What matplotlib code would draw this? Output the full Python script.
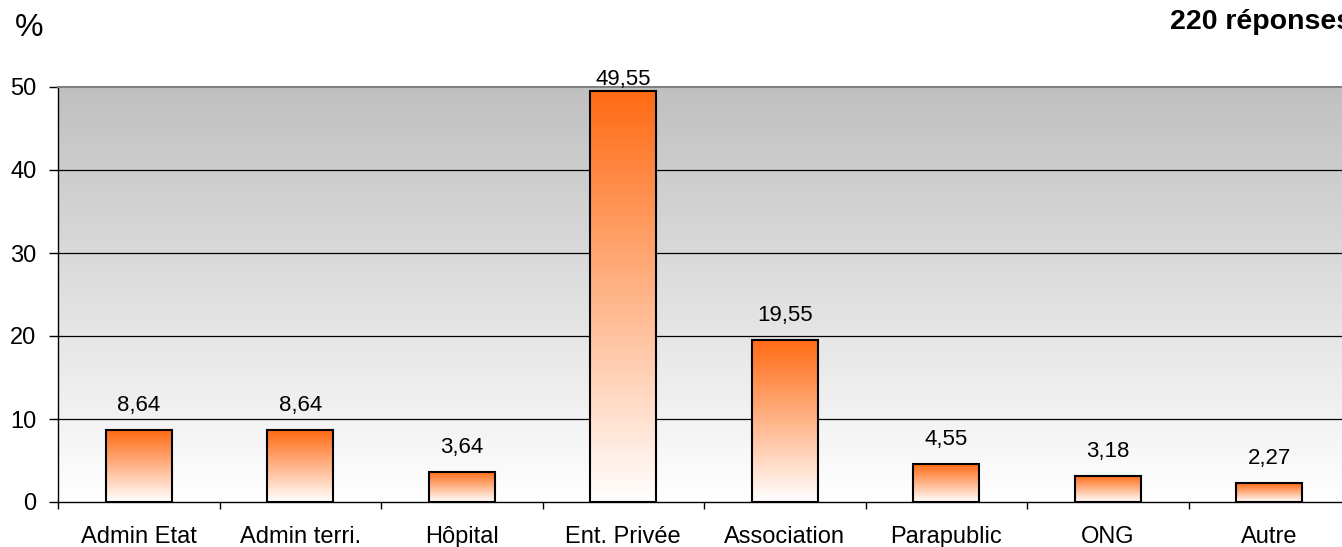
import numpy as np
import matplotlib
matplotlib.use("Agg")
import matplotlib.pyplot as plt
from matplotlib.colors import LinearSegmentedColormap

categories = ["Admin Etat", "Admin terri.", "Hôpital", "Ent. Privée", "Association",
              "Parapublic", "ONG", "Autre"]
values = [8.64, 8.64, 3.64, 49.55, 19.55, 4.55, 3.18, 2.27]
value_labels = ["8,64", "8,64", "3,64", "49,55", "19,55", "4,55", "3,18", "2,27"]
yticks = [0, 10, 20, 30, 40, 50]

plt.rcParams['font.family'] = ['Liberation Sans', 'DejaVu Sans']

W, H, DPI = 1342, 547, 100
fig = plt.figure(figsize=(W / DPI, H / DPI), dpi=DPI)
ax = fig.add_axes([58/W, 1-502/H, 1292/W, 415/H])

n = len(categories)
x = np.arange(n)
ax.set_xlim(-0.5, n - 0.5)
ax.set_ylim(0, 50)

# background gradient
bg = LinearSegmentedColormap.from_list("bg", ["#ffffff", "#c0c0c0"])
grad = np.linspace(0, 1, 256).reshape(-1, 1)
ax.imshow(grad, cmap=bg, aspect="auto", origin="lower",
          extent=(-0.5, n - 0.5, 0, 50), zorder=0)

for t in yticks[1:-1]:
    ax.axhline(t, color="black", lw=0.9, zorder=1)

bars = ax.bar(x, values, width=0.41, facecolor="none", edgecolor="black",
              linewidth=1.5, zorder=3)
orange = LinearSegmentedColormap.from_list("or", ["#ffffff", "#ff6a13"])
for b in bars:
    x0, y0 = b.get_x(), b.get_y()
    w, h = b.get_width(), b.get_height()
    im = ax.imshow(grad, cmap=orange, aspect="auto", origin="lower",
                   extent=(x0, x0 + w, y0, y0 + h), zorder=2)
    im.set_clip_path(b)

ax.set_xlim(-0.5, n - 0.5)
ax.set_ylim(0, 50)

# value labels: baseline 19 px above bar top, but kept inside the chart area
max_baseline = H - 85
for xi, v, lab in zip(x, values, value_labels):
    top = ax.transData.transform((xi, v))[1]
    base = min(top + 19, max_baseline)
    off = (base - top) * 72 / DPI
    ax.annotate(lab, (xi, v), xytext=(0, off), textcoords="offset points",
                ha="center", va="baseline", fontsize=16, annotation_clip=False)

ax.spines["right"].set_visible(False)
ax.spines["top"].set_color("#808080")
ax.spines["top"].set_linewidth(1.5)
ax.spines["left"].set_linewidth(1.0)
ax.spines["bottom"].set_linewidth(1.0)

ax.set_yticks(yticks)
ax.set_yticklabels([str(t) for t in yticks], fontsize=17)
ax.tick_params(axis="y", direction="out", length=6.5, width=1, pad=9)

ax.set_xticks(x)
ax.set_xticklabels(categories, fontsize=17)
ax.tick_params(axis="x", which="major", length=0, pad=17.5)
ax.set_xticks(np.arange(n + 1) - 0.5, minor=True)
ax.tick_params(axis="x", which="minor", direction="out", length=5, width=1)

fig.text(29.5/W, 1-28/H, "%", fontsize=23, ha="center", va="center")
fig.text(1170/W, 1-29/H, "220 réponses", fontsize=20.5, fontweight="bold",
         ha="left", va="baseline")

fig.savefig("out.png", dpi=DPI)
